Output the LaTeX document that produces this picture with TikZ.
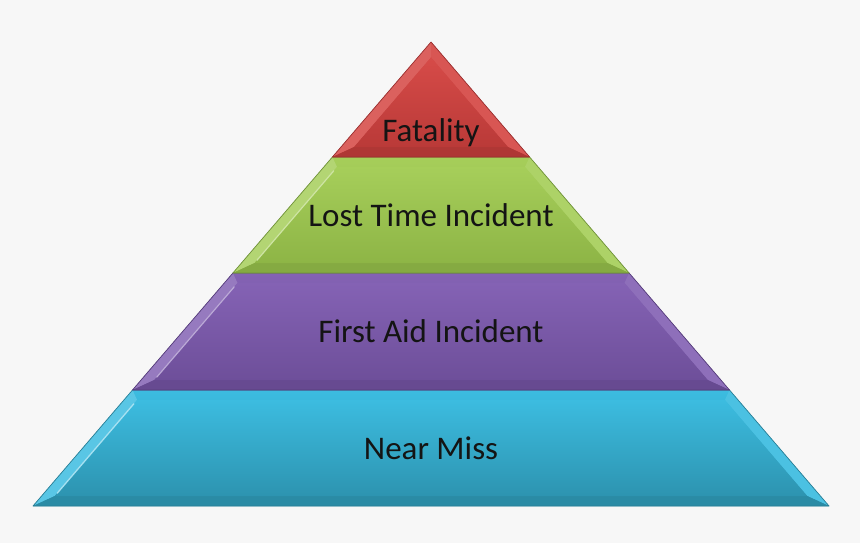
\documentclass[tikz,border=0pt]{standalone}
\usepackage{fontspec}
\setmainfont{Carlito}
\usetikzlibrary{calc}
\begin{document}
\begin{tikzpicture}[x=1pt,y=-1pt,
  lbl/.style={font=\fontsize{33}{40}\selectfont, text=black!92},
  edge/.style={draw=#1, line width=0.7pt, line join=round}]
\definecolor{bg}{HTML}{F7F7F7}
\definecolor{rT}{HTML}{D64B48}\definecolor{rB}{HTML}{BA3A38}\definecolor{rE}{HTML}{9A3030}
\definecolor{gT}{HTML}{A6CE5A}\definecolor{gB}{HTML}{8EB546}\definecolor{gE}{HTML}{70923A}
\definecolor{pT}{HTML}{8462B4}\definecolor{pB}{HTML}{6E4F9A}\definecolor{pE}{HTML}{553C7A}
\definecolor{cT}{HTML}{3CBCE0}\definecolor{cB}{HTML}{2D94B0}\definecolor{cE}{HTML}{2A7F96}
\fill[bg] (0,0) rectangle (860,543);
\useasboundingbox (0,0) rectangle (860,543);

% ---------- Cyan (Near Miss)
\coordinate (c1) at (132.5,390); \coordinate (c2) at (729.5,390);
\coordinate (c3) at (829,506);   \coordinate (c4) at (33,506);
\coordinate (ci1) at (137.1,400); \coordinate (ci2) at (724.9,400);
\coordinate (ci3) at (807.2,496); \coordinate (ci4) at (54.8,496);
\shade[top color=cT, bottom color=cB] (c1)--(c2)--(c3)--(c4)--cycle;
\fill[cT!85!white] (c1)--(ci1)--(ci4)--(c4)--cycle;
\fill[cT!92!white] (c2)--(ci2)--(ci3)--(c3)--cycle;
\fill[cB!94!black] (c4)--(ci4)--(ci3)--(c3)--cycle;
\shade[top color=cT, bottom color=cB] (ci1)--(ci2)--(ci3)--(ci4)--cycle;
\draw[white!55!cT, line width=1.3pt, line cap=round] ($(ci1)!0.04!(ci4)$) -- ($(ci1)!0.97!(ci4)$);
\draw[edge=cE] (c1)--(c2)--(c3)--(c4)--cycle;

% ---------- Purple (First Aid Incident)
\coordinate (p1) at (232.9,273); \coordinate (p2) at (629.1,273);
\coordinate (p3) at (729.5,390); \coordinate (p4) at (132.5,390);
\coordinate (pi1) at (237.5,283); \coordinate (pi2) at (624.5,283);
\coordinate (pi3) at (707.7,380); \coordinate (pi4) at (154.3,380);
\shade[top color=pT, bottom color=pB] (p1)--(p2)--(p3)--(p4)--cycle;
\fill[pT!85!white] (p1)--(pi1)--(pi4)--(p4)--cycle;
\fill[pT!92!white] (p2)--(pi2)--(pi3)--(p3)--cycle;
\fill[pB!94!black] (p4)--(pi4)--(pi3)--(p3)--cycle;
\shade[top color=pT, bottom color=pB] (pi1)--(pi2)--(pi3)--(pi4)--cycle;
\draw[white!45!pT, line width=1.2pt, line cap=round] ($(pi1)!0.04!(pi4)$) -- ($(pi1)!0.97!(pi4)$);
\draw[edge=pE] (p1)--(p2)--(p3)--(p4)--cycle;

% ---------- Green (Lost Time Incident)
\coordinate (g1) at (332.4,157); \coordinate (g2) at (529.6,157);
\coordinate (g3) at (629.1,273); \coordinate (g4) at (232.9,273);
\coordinate (gi1) at (337,167); \coordinate (gi2) at (525,167);
\coordinate (gi3) at (607.4,263); \coordinate (gi4) at (254.6,263);
\shade[top color=gT, bottom color=gB] (g1)--(g2)--(g3)--(g4)--cycle;
\fill[gT!85!white] (g1)--(gi1)--(gi4)--(g4)--cycle;
\fill[gT!92!white] (g2)--(gi2)--(gi3)--(g3)--cycle;
\fill[gB!94!black] (g4)--(gi4)--(gi3)--(g3)--cycle;
\shade[top color=gT, bottom color=gB] (gi1)--(gi2)--(gi3)--(gi4)--cycle;
\draw[white!45!gT, line width=1.2pt, line cap=round] ($(gi1)!0.04!(gi4)$) -- ($(gi1)!0.97!(gi4)$);
\draw[edge=gE] (g1)--(g2)--(g3)--(g4)--cycle;

% ---------- Red (Fatality)
\coordinate (r0) at (431,42); \coordinate (r2) at (529.6,157); \coordinate (r3) at (332.4,157);
\coordinate (ri0) at (431,57.4); \coordinate (ri2) at (507.9,147); \coordinate (ri3) at (354.1,147);
\shade[top color=rT, bottom color=rB] (r0)--(r2)--(r3)--cycle;
\fill[rT!88!white] (r0)--(ri0)--(ri3)--(r3)--cycle;
\fill[rT!94!white] (r0)--(ri0)--(ri2)--(r2)--cycle;
\fill[rB!94!black] (r3)--(ri3)--(ri2)--(r2)--cycle;
\shade[top color=rT, bottom color=rB] (ri0)--(ri2)--(ri3)--cycle;
\draw[edge=rE] (r0)--(r2)--(r3)--cycle;

% ---------- Labels
\node[lbl] (tfat) at (431,133) {Fatality};
\node[lbl] (tlost) at (431,215) {Lost Time Incident};
\node[lbl] (tfirst) at (431,331) {First Aid Incident};
\node[lbl] (tnear) at (431,448) {Near Miss};
\end{tikzpicture}
\end{document}
